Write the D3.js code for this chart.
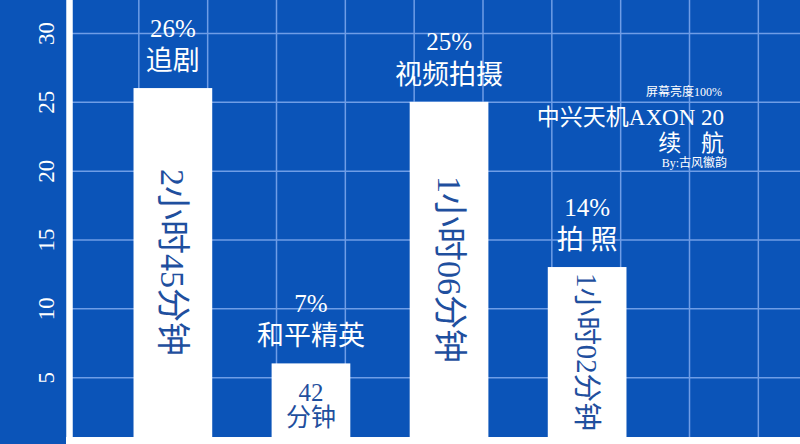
<!DOCTYPE html>
<html>
<head>
<meta charset="utf-8">
<script src="https://cdn.jsdelivr.net/npm/d3@7"></script>
<style>
  html, body { margin: 0; padding: 0; background: #0b54b8; overflow: hidden; }
  svg { display: block; }
  text { font-family: "Liberation Serif", "Noto Sans CJK SC", serif; }
</style>
</head>
<body>
<svg id="chart"></svg>
<script>
// chart data
const categories = ['追剧', '和平精英', '视频拍摄', '拍 照']
const values = [26, 6, 25, 13]
const shares = ['26%', '7%', '25%', '14%']
const durations = ['2小时45分钟', '42分钟', '1小时06分钟', '1小时02分钟']
const yTicks = [5, 10, 15, 20, 25, 30]
const titleLines = ['屏幕亮度100%', '中兴天机AXON 20', '续 航', 'By:古风徽韵']

const width = 800
const height = 444
const axisX = 70
const plotBottom = 437
const blue = '#0b54b8'
const gridColor = '#6f9de6'
const barText = '#1f4f9e'

const svg = d3.select('#chart')
  .attr('width', width)
  .attr('height', height)

var y = d3.scaleLinear().domain([0, 30]).range([446, 33])
var x = d3.scaleBand()
  .domain(categories)
  .range([axisX, 690])
  .paddingInner(0.43)
  .paddingOuter(0.46)
// square grid: vertical lines every 5 units, same pixel size as the y steps
var gx = d3.scaleLinear().domain([0, 5]).range([axisX, axisX + y(0) - y(5)])

const data = categories.map((c, i) => ({
  name: c, value: values[i], share: shares[i], time: durations[i]
}))

svg.append('rect')
  .attr('width', width)
  .attr('height', height)
  .attr('fill', blue)

// vertical grid
svg.append('g')
  .selectAll('line')
  .data(d3.range(5, 60, 5).filter(t => gx(t) < width))
  .join('line')
  .attr('x1', d => gx(d))
  .attr('x2', d => gx(d))
  .attr('y1', 0)
  .attr('y2', plotBottom)
  .attr('stroke', gridColor)
  .attr('stroke-width', 1.5)

// y axis with horizontal grid
const yAxis = svg.append('g')
  .attr('transform', `translate(${axisX},0)`)
  .call(d3.axisLeft(y).tickValues(yTicks).tickSizeInner(-(width - axisX)).tickSizeOuter(0))
yAxis.select('.domain').remove()
yAxis.selectAll('.tick line')
  .attr('stroke', gridColor)
  .attr('stroke-width', 1.5)
yAxis.selectAll('.tick text')
  .attr('x', 0)
  .attr('dy', 0)
  .attr('transform', 'translate(-24,0) rotate(-90)')
  .attr('text-anchor', 'middle')
  .attr('dominant-baseline', 'central')
  .attr('fill', '#fff')
  .style('font-size', '23px')
  .style('font-family', '"Liberation Serif", serif')

// bars
svg.append('g')
  .selectAll('rect')
  .data(data)
  .join('rect')
  .attr('x', d => x(d.name))
  .attr('y', d => y(d.value))
  .attr('width', x.bandwidth())
  .attr('height', d => plotBottom - y(d.value))
  .attr('fill', '#fff')

// frame
svg.append('line')
  .attr('x1', axisX - 0.5).attr('x2', axisX - 0.5)
  .attr('y1', 0).attr('y2', height)
  .attr('stroke', '#fff').attr('stroke-width', 6.5)
svg.append('line')
  .attr('x1', axisX - 4).attr('x2', width)
  .attr('y1', plotBottom + 3.5).attr('y2', plotBottom + 3.5)
  .attr('stroke', '#fff').attr('stroke-width', 7)

// labels above bars
const labels = svg.append('g')
  .attr('fill', '#fff')
  .attr('text-anchor', 'middle')
  .attr('dominant-baseline', 'central')
labels.selectAll('.name')
  .data(data)
  .join('text')
  .attr('class', 'name')
  .attr('x', d => x(d.name) + x.bandwidth() / 2)
  .attr('y', d => y(d.value) - 27)
  .style('font-size', '27px')
  .text(d => d.name)
labels.selectAll('.share')
  .data(data)
  .join('text')
  .attr('class', 'share')
  .attr('x', d => x(d.name) + x.bandwidth() / 2)
  .attr('y', d => y(d.value) - 60)
  .style('font-size', '25px')
  .text(d => d.share)

// durations inside the bars
data.forEach(d => {
  const cx = x(d.name) + x.bandwidth() / 2
  const top = y(d.value)
  const barH = plotBottom - top
  if (barH < 100) {
    // short bar: two horizontal lines
    const parts = d.time.match(/^(\d+)(.*)$/)
    svg.append('g')
      .attr('fill', barText)
      .attr('text-anchor', 'middle')
      .attr('dominant-baseline', 'central')
      .style('font-size', '25px')
      .selectAll('text')
      .data(parts.slice(1))
      .join('text')
      .attr('x', cx)
      .attr('y', (p, i) => top + 29 + i * 25)
      .text(p => p)
  } else {
    const fs = Math.min(34, (barH - 12) / 5.5)
    svg.append('text')
      .attr('transform', `translate(${cx},${(top + plotBottom) / 2}) rotate(90)`)
      .attr('text-anchor', 'middle')
      .attr('dominant-baseline', 'central')
      .attr('fill', barText)
      .style('font-size', fs + 'px')
      .text(d.time)
  }
})

// title block
const title = svg.append('g')
  .attr('fill', '#fff')
  .attr('text-anchor', 'end')
  .attr('dominant-baseline', 'central')
title.append('text').attr('x', 722).attr('y', 92).style('font-size', '12px').text(titleLines[0])
title.append('text').attr('x', 724).attr('y', 117).style('font-size', '23px').text(titleLines[1])
title.append('text').attr('x', 724).attr('y', 143).style('font-size', '23px')
  .style('word-spacing', '14px').text(titleLines[2])
title.append('text').attr('x', 727).attr('y', 163).style('font-size', '12px').text(titleLines[3])
</script>
</body>
</html>
